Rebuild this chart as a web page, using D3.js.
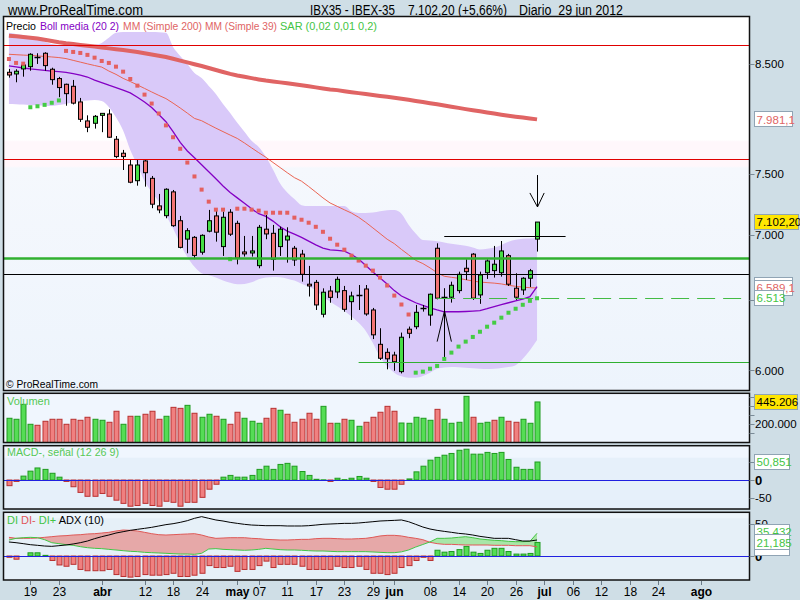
<!DOCTYPE html>
<html><head><meta charset="utf-8">
<script src="https://cdn.jsdelivr.net/npm/d3@7/dist/d3.min.js"></script>
<style>
body{margin:0;background:#cfdee6;}
svg{display:block;font-family:"Liberation Sans",Arial,sans-serif;}
text{white-space:pre;}
</style>
</head><body><svg id="c" width="800" height="600"></svg>
<script>
// ---------------- DATA ----------------
const dates = [
"2012-03-14","2012-03-15","2012-03-16",
"2012-03-19","2012-03-20","2012-03-21","2012-03-22","2012-03-23",
"2012-03-26","2012-03-27","2012-03-28","2012-03-29","2012-03-30",
"2012-04-02","2012-04-03","2012-04-04","2012-04-05",
"2012-04-10","2012-04-11","2012-04-12","2012-04-13",
"2012-04-16","2012-04-17","2012-04-18","2012-04-19","2012-04-20",
"2012-04-23","2012-04-24","2012-04-25","2012-04-26","2012-04-27",
"2012-04-30",
"2012-05-02","2012-05-03","2012-05-04",
"2012-05-07","2012-05-08","2012-05-09","2012-05-10","2012-05-11",
"2012-05-14","2012-05-15","2012-05-16","2012-05-17","2012-05-18",
"2012-05-21","2012-05-22","2012-05-23","2012-05-24","2012-05-25",
"2012-05-28","2012-05-29","2012-05-30","2012-05-31",
"2012-06-01",
"2012-06-04","2012-06-05","2012-06-06","2012-06-07","2012-06-08",
"2012-06-11","2012-06-12","2012-06-13","2012-06-14","2012-06-15",
"2012-06-18","2012-06-19","2012-06-20","2012-06-21","2012-06-22",
"2012-06-25","2012-06-26","2012-06-27","2012-06-28","2012-06-29"];
const futureDates = [
"2012-07-02","2012-07-03","2012-07-04","2012-07-05","2012-07-06",
"2012-07-09","2012-07-10","2012-07-11","2012-07-12","2012-07-13",
"2012-07-16","2012-07-17","2012-07-18","2012-07-19","2012-07-20",
"2012-07-23","2012-07-24","2012-07-25","2012-07-26","2012-07-27",
"2012-07-30","2012-07-31","2012-08-01","2012-08-02","2012-08-03",
"2012-08-06","2012-08-07","2012-08-08","2012-08-09","2012-08-10"];

const open  = [8420,8404,8452,8474,8572,8604,8449,8360,8306,8287, 8141,7967,7946,8018,8030,7803,7680,7578,7444,7613,
               7464,7234,7154,7350,7113,6966,6980,6863,7029,7152, 6907,7182,7092,6865,6857,6759,7045,7012,6907,6959,
               6894,6848,6618,6632,6396,6567,6560,6570,6488,6538, 6582,6427,6181,6125,6106,5992,6288,6306,6440,6390,
               6894,6520,6521,6570,6739,6848,6538,6705,6721,6705, 6836,6588,6575,6663,6966];
const high  = [8452,8449,8516,8604,8604,8614,8464,8376,8312,8347, 8178,8018,8021,8036,8073,7832,7709,7622,7622,7622,
               7484,7333,7380,7366,7152,7053,6990,7004,7201,7201, 7187,7207,7113,6991,6991,7079,7160,7079,7066,7060,
               6912,6881,6757,6650,6587,6605,6675,6605,6562,6612, 6612,6442,6295,6153,6129,6264,6307,6464,6464,6548,
               6933,6588,6637,6713,6808,6856,6713,6808,6912,6951, 6850,6701,6671,6734,7102.2];
const low   = [8369,8325,8378,8435,8500,8435,8302,8185,8106,8118, 7958,7866,7898,7866,7815,7637,7535,7422,7402,7394,
               7215,7174,7133,7064,6893,6855,6808,6844,7020,6946, 6834,6991,6769,6829,6829,6739,6965,6721,6834,6782,
               6757,6637,6526,6427,6373,6480,6514,6414,6354,6427, 6385,6218,6072,6008,5998,5980,6224,6288,6415,6313,
               6505,6415,6481,6550,6650,6501,6472,6658,6668,6675, 6605,6501,6538,6597,6868];
const close = [8394,8430,8490,8594,8572,8484,8350,8275,8218,8130, 7982,7910,8009,8036,7821,7651,7651,7431,7578,7512,
               7248,7201,7372,7073,6901,7033,6838,6996,7113,7021, 7141,7005,6817,6850,6873,7060,7007,6808,7045,6990,
               6803,6693,6605,6464,6558,6520,6655,6432,6530,6538, 6398,6248,6084,6080,6060,6231,6259,6410,6440,6543,
               6514,6520,6610,6693,6713,6514,6688,6795,6770,6873, 6618,6521,6663,6720,7102.2];
const prevClose = 8360;

const volume = [266000,255000,419000,200000,189000,233000,255000,255000,200000,255000,
                244000,277000,255000,244000,222000,343000,200000,288000,288000,310000,
                343000,255000,288000,386000,375000,408000,321000,277000,310000,288000,
                255000,200000,332000,266000,233000,211000,266000,375000,354000,310000,
                222000,255000,321000,255000,397000,211000,211000,255000,244000,178000,
                222000,277000,332000,397000,343000,214000,211000,277000,266000,244000,
                364000,255000,211000,222000,507000,277000,211000,222000,244000,277000,
                233000,222000,255000,211000,445206];

const macdHist = [-16,-4,11,25,34,30,19,8,-4,-19,
                  -35,-46,-46,-38,-46,-57,-66,-74,-72,-66,
                  -72,-74,-60,-63,-74,-63,-63,-49,-26,-12,
                  8,13,8,8,13,30,39,30,44,47,
                  39,24,13,2,0.5,-4,5,1,5,10,
                  5,-4,-21,-26,-26,-12,3,23,39,56,
                  64,70,75,84,87,73,73,78,75,78,
                  58,36,30,30,50.851];

const diHist = [-2,-5,0,5,5,1,-7,-14,-16,-13,
                -21,-23,-23,-23,-21,-29,-32,-33,-32,-29,
                -30,-30,-29,-27,-32,-32,-30,-27,-15,-18,
                -18,-16,-24,-21,-21,-15,-8,-18,-13,-13,
                -13,-16,-21,-21,-21,-21,-16,-18,-18,-16,
                -21,-27,-27,-29,-27,-18,-15,-7,-2,-7,
                9,6,7,10,15,6,4,9,12,12,
                7,3,3,4,21.185];
const diMinus = [29.2,27.6,27.6,27.6,28.1,29.2,30.2,31.3,31.8,32.8,
                 33.3,34.4,34.9,35.9,37.0,39.1,40.6,40.1,39.1,37.0,
                 34.9,33.3,32.8,33.3,33.9,34.4,34.9,32.8,29.7,27.6,
                 28.1,28.6,28.6,28.6,27.6,27.1,26.0,25.5,25.0,25.0,
                 25.5,26.0,26.0,27.1,27.6,27.6,27.1,26.6,26.6,27.1,
                 27.6,29.2,31.3,32.3,32.3,31.3,29.2,27.6,25.5,21.4,
                 19.3,18.2,18.2,17.7,17.2,17.2,17.2,17.2,16.7,16.7,
                 16.7,16.1,16.1,16.1,14.25];
const diPlus = [25.0,27.6,28.6,29.2,28.6,25.5,20.8,19.3,17.7,16.7,
                14.6,13.0,12.0,11.5,10.4,9.4,8.3,7.3,6.8,5.7,
                5.2,4.7,4.2,3.6,3.1,3.1,2.6,4.2,10.9,11.5,
                10.4,9.9,9.4,8.9,9.4,10.4,12.0,10.9,9.9,9.4,
                9.4,8.9,8.3,7.8,7.8,7.3,6.8,6.8,6.8,6.8,
                6.8,6.3,5.7,5.2,5.2,6.5,9.4,14.0,18.0,22.0,
                27.6,27.6,28.1,29.2,30.2,28.6,26.6,25.5,24.5,24.0,
                22.9,22.4,22.4,22.9,35.432];
const adx = [21.9,20.8,19.3,17.7,16.7,15.6,15.1,16.1,17.2,18.8,
             20.8,23.4,27.1,30.2,32.8,35.9,38.0,40.1,41.7,43.2,
             44.8,46.9,49.0,50.5,52.6,55.2,58.9,61.5,58.9,56.3,
             54.7,52.6,51.0,49.5,48.4,47.9,47.4,47.4,47.4,46.9,
             46.9,46.9,47.4,48.4,49.5,50.0,50.5,51.0,51.0,51.6,
             52.6,53.6,54.7,55.2,55.7,56.3,53.6,49.5,45.3,42.2,
             40.1,38.5,37.0,35.4,34.4,32.8,30.7,29.2,27.6,27.6,
             27.6,25.5,23.4,23.4,25.0];

const sar = [8548,8510,8503,8092,8101,8114,8133,8155,8627,8617,
             8607,8588,8561,8529,8510,8474,8426,8356,8293,8209,
             8126,8035,7927,7821,7719,7599,7480,7369,7269,7203,
             7203,6809,7211,7211,7203,7195,7178,7178,7178,7178,
             7138,7121,7097,7064,7024,6969,6922,6883,6836,6798,
             6759,6721,6668,6608,6533,6467,6394,5985,5992,6012,
             6031,6079,6123,6165,6200,6233,6270,6306,6335,6371,
             6407,6436,6465,6494,6513];

const bbUpper = [8806,8795,8785,8768,8745,8718,8695,8685,8676,8676,
                 8676,8680,8686,8705,8756,8806,8815,8815,8815,8815,
                 8815,8812,8806,8666,8578,8500,8413,8365,8290,8215,
                 8122,8040,7950,7870,7790,7735,7650,7540,7420,7345,
                 7290,7240,7233,7233,7233,7233,7233,7233,7190,7176,
                 7176,7180,7190,7198,7200,7170,7080,7010,6959,6955,
                 6950,6940,6930,6922,6913,6900,6885,6890,6900,6920,
                 6945,6960,6968,6970,6975];
const bbMiddle = [8481,8471,8461,8452,8446,8439,8432,8426,8419,8407,
                  8393,8375,8346,8322,8297,8275,8250,8225,8185,8140,
                  8090,8025,7960,7870,7775,7700,7640,7580,7520,7460,
                  7400,7345,7300,7255,7210,7170,7148,7110,7065,7030,
                  7005,6980,6950,6920,6895,6882,6878,6872,6845,6810,
                  6760,6710,6665,6620,6570,6530,6505,6480,6460,6442,
                  6427,6414,6414,6414,6416,6419,6422,6436,6452,6466,
                  6480,6494,6506,6525,6600];
const bbLower = [8122,8120,8117,8113,8110,8106,8104,8112,8122,8137,
                 8150,8155,8159,8150,8095,8000,7880,7709,7578,7440,
                 7350,7270,7160,7050,6930,6826,6750,6700,6685,6668,
                 6645,6628,6618,6620,6632,6655,6668,6673,6670,6660,
                 6645,6622,6600,6570,6525,6490,6455,6420,6380,6335,
                 6276,6190,6093,6030,5985,5960,5950,5950,5962,5985,
                 6012,6020,6024,6022,6018,6015,6012,6010,6012,6017,
                 6024,6036,6080,6140,6212];
const mm200 = [8777,8771,8765,8758,8749,8737,8725,8713,8703,8695,
               8686,8678,8670,8661,8652,8644,8636,8627,8617,8604,
               8592,8580,8567,8550,8532,8515,8497,8480,8461,8442,
               8423,8405,8390,8377,8364,8352,8341,8333,8324,8315,
               8306,8297,8287,8277,8267,8257,8251,8241,8232,8223,
               8214,8206,8197,8189,8180,8171,8161,8150,8140,8129,
               8119,8108,8097,8086,8075,8065,8055,8044,8034,8024,
               8015,8006,7998,7990,7981.1];
const mm39 = [8594,8590,8586,8583,8578,8573,8568,8562,8552,8535,
              8518,8501,8485,8470,8432,8400,8362,8332,8300,8267,
              8234,8202,8172,8130,8085,8038,7990,7969,7935,7902,
              7871,7840,7810,7770,7727,7685,7645,7600,7556,7512,
              7470,7440,7395,7348,7300,7258,7230,7202,7175,7141,
              7100,7055,7010,6965,6930,6885,6843,6800,6775,6742,
              6705,6678,6670,6663,6652,6642,6634,6630,6626,6620,
              6610,6602,6596,6592,6589.1];

// axis ticks
const priceTicks = [8500, 7500, 7000, 6000];
const priceTickText = ["8.500", "7.500", "7.000", "6.000"];
const volTicks = [100000, 200000, 300000, 400000, 500000];
const volTickLabels = [[200000, "200.000"]];
const macdTicks = [[0, "0", true], [-50, "-50", false]];
const adxTicks = [[50, "50", false], [0, "0", true]];
const xTickDates  = ["2012-03-19","2012-03-23","2012-04-02","2012-04-12","2012-04-18","2012-04-24","2012-05-02","2012-05-07","2012-05-11","2012-05-17","2012-05-23","2012-05-29","2012-06-01","2012-06-08","2012-06-14","2012-06-20","2012-06-26","2012-07-02","2012-07-06","2012-07-12","2012-07-18","2012-07-24","2012-08-01"];
const xTickLabels = ["19","23","abr","12","18","24","may","07","11","17","23","29","jun","08","14","20","26","jul","06","12","18","24","ago"];
const xTickBold   = [0,0,1,0,0,0,1,0,0,0,0,0,1,0,0,0,0,1,0,0,0,0,1];

// user-drawn lines (price level, start date, end date)
const levelValues = [8683, 7630, 6821, 6694, 6513, 6056, 6991];
const levelStart  = ["2012-03-14","2012-03-14","2012-03-14","2012-03-14","2012-06-11","2012-05-25","2012-06-12"];
const levelEnd    = [null, null, null, null, null, null, "2012-07-05"];
const levelStyle  = ["red","red","greenThick","black","greenDash","green","black"];
// arrows: date, tail price, tip price, head price
const arrowDates = ["2012-06-29", "2012-06-12"];
const arrowTail  = [7492, 6093];
const arrowTip   = [7225, 6420];
const arrowHead  = [7341, 6200];

// ---------------- CHART ----------------
const svg = d3.select("#c");
const L = 3.5, R = 749.5;
const panels = {
  main: [16.5, 390.5], vol: [393.3, 442.5], macd: [445.7, 509], adx: [512.3, 580]
};
const allDates = dates.concat(futureDates);
const x = d3.scaleLinear().domain([-0.69, 103.7]).range([4, 749]);
const xd = d => x(allDates.indexOf(d));
const yP = d3.scaleLog().domain([5865, 8971]).range([390.5, 16.5]);
const yV = d3.scaleLinear().domain([0, 538000]).range([442.5, 393.5]);
const yM = d3.scaleLinear().domain([-81.9, 96.9]).range([509, 445.7]);
const yA = d3.scaleLinear().domain([-37.5, 68.3]).range([580, 512.3]);
const idx = d3.range(dates.length);
const px = v => Math.round(v) + 0.5;

const defs = svg.append("defs");
const grad = defs.append("linearGradient").attr("id","mainbg").attr("x1",0).attr("y1",0).attr("x2",0).attr("y2",1);
[[0,"#ffffff"],[0.33,"#ffffff"],[0.335,"#fff7fb"],[0.4,"#fff7fb"],[0.405,"#f5f8fd"],[1,"#edf4fc"]]
  .forEach(s => grad.append("stop").attr("offset", s[0]).attr("stop-color", s[1]));
Object.entries(panels).forEach(([k, p]) => {
  defs.append("clipPath").attr("id", "clip-" + k).append("rect")
    .attr("x", L).attr("y", p[0]).attr("width", R - L).attr("height", p[1] - p[0]);
});

// header
svg.append("rect").attr("width",800).attr("height",600).attr("fill","#cfdee6");
svg.append("text").attr("x",8).attr("y",15).attr("font-size",14).attr("textLength",135)
  .attr("lengthAdjust","spacingAndGlyphs").text("www.ProRealTime.com");
svg.append("text").attr("x",310).attr("y",15).attr("font-size",14).attr("textLength",85)
  .attr("lengthAdjust","spacingAndGlyphs").text("IBX35 - IBEX-35");
svg.append("text").attr("x",408).attr("y",15).attr("font-size",14).attr("textLength",99)
  .attr("lengthAdjust","spacingAndGlyphs").text("7.102,20 (+5,66%)");
svg.append("text").attr("x",519).attr("y",15).attr("font-size",14).attr("textLength",104)
  .attr("lengthAdjust","spacingAndGlyphs").text("Diario  29 jun 2012");

// panel backgrounds
svg.append("rect").attr("x",L).attr("y",panels.main[0]).attr("width",R-L)
  .attr("height",panels.main[1]-panels.main[0]).attr("fill","url(#mainbg)");
svg.append("rect").attr("x",L).attr("y",panels.vol[0]).attr("width",R-L)
  .attr("height",panels.vol[1]-panels.vol[0]).attr("fill","#f0f6fe");
svg.append("rect").attr("x",L).attr("y",panels.macd[0]).attr("width",R-L)
  .attr("height",panels.macd[1]-panels.macd[0]).attr("fill","#e6f0fa");
svg.append("rect").attr("x",L).attr("y",panels.macd[0]).attr("width",R-L)
  .attr("height",12).attr("fill","#f0f6fe");
svg.append("rect").attr("x",L).attr("y",panels.adx[0]).attr("width",R-L)
  .attr("height",panels.adx[1]-panels.adx[0]).attr("fill","#e6f0f8");
svg.append("rect").attr("x",L).attr("y",panels.adx[0]).attr("width",R-L)
  .attr("height",6).attr("fill","#edf5fb");

// ---- main panel ----
const gm = svg.append("g").attr("clip-path","url(#clip-main)");
gm.append("path").datum(idx)
  .attr("d", d3.area().x(i => x(i)).y0(i => yP(bbLower[i])).y1(i => yP(bbUpper[i])).curve(d3.curveMonotoneX))
  .attr("fill","#d9c9f9");
const lineP = arr => d3.line().x(i => x(i)).y(i => yP(arr[i]));
gm.append("path").datum(idx).attr("d", lineP(mm200)).attr("fill","none").attr("stroke","#e06464").attr("stroke-width",4);
gm.append("path").datum(idx).attr("d", lineP(mm39)).attr("fill","none").attr("stroke","#ea6452").attr("stroke-width",1);
gm.append("path").datum(idx).attr("d", lineP(bbMiddle)).attr("fill","none").attr("stroke","#8400c4").attr("stroke-width",1.3);

// candles
const cg = gm.append("g");
idx.forEach(i => {
  const cx = px(x(i));
  cg.append("line").attr("x1",cx).attr("x2",cx).attr("y1",yP(high[i])).attr("y2",yP(low[i]))
    .attr("stroke","#000").attr("stroke-width",1);
  if (open[i] === close[i]) {
    cg.append("line").attr("x1",cx-3).attr("x2",cx+3).attr("y1",px(yP(close[i]))).attr("y2",px(yP(close[i])))
      .attr("stroke","#000").attr("stroke-width",1.5);
  } else {
    const top = yP(Math.max(open[i], close[i])), bot = yP(Math.min(open[i], close[i]));
    cg.append("rect").attr("x",cx-2).attr("width",4).attr("y",top).attr("height",Math.max(1,bot-top))
      .attr("fill", close[i] > open[i] ? "#46de46" : "#f27474").attr("stroke","#000").attr("stroke-width",1);
  }
});
// SAR
gm.selectAll("rect.sar").data(idx).enter().append("rect").attr("class","sar")
  .attr("x", i => x(i) - 2).attr("y", i => yP(sar[i]) - 2).attr("width",4).attr("height",4)
  .attr("fill", i => sar[i] > close[i] ? "#e46060" : "#44cc44");

// level lines
const lvlStyle = {
  red: {c:"#e00000", w:1, d:null}, greenThick: {c:"#30b030", w:2.5, d:null},
  black: {c:"#000", w:1, d:null}, greenDash: {c:"#44bb44", w:1, d:"18,8"}, green: {c:"#30b030", w:1.2, d:null}
};
levelValues.forEach((v, k) => {
  const s = lvlStyle[levelStyle[k]];
  const x1 = levelStart[k] === dates[0] ? L : xd(levelStart[k]);
  const x2 = levelEnd[k] ? xd(levelEnd[k]) : R;
  gm.append("line").attr("x1",x1).attr("x2",x2).attr("y1",px(yP(v))).attr("y2",px(yP(v)))
    .attr("stroke",s.c).attr("stroke-width",s.w).attr("stroke-dasharray",s.d);
});
// arrows
arrowDates.forEach((d, k) => {
  const i = allDates.indexOf(d);
  const cx = px(x(i));
  gm.append("line").attr("x1",cx).attr("x2",cx).attr("y1",yP(arrowTail[k])).attr("y2",yP(arrowTip[k]))
    .attr("stroke","#000").attr("stroke-width",1);
  gm.append("path").attr("d", d3.line()([[x(i-1), yP(arrowHead[k])],[cx, yP(arrowTip[k])],[x(i+1), yP(arrowHead[k])]]))
    .attr("fill","none").attr("stroke","#000").attr("stroke-width",1);
});
// legend
const leg = [["Precio","#000",6,30],["Boll media (20 2)","#8400c4",40,79],["MM (Simple 200)","#e06464",123,79],
             ["MM (Simple 39)","#e06464",205,72],["SAR (0,02 0,01 0,2)","#44c444",280,97]];
leg.forEach(l => svg.append("text").attr("x",l[2]).attr("y",30).attr("font-size",11).attr("fill",l[1])
  .attr("textLength",l[3]).attr("lengthAdjust","spacingAndGlyphs").text(l[0]));
svg.append("text").attr("x",6).attr("y",387.5).attr("font-size",11).attr("textLength",92)
  .attr("lengthAdjust","spacingAndGlyphs").text("© ProRealTime.com");

// ---- volume ----
const gv = svg.append("g").attr("clip-path","url(#clip-vol)");
const volUp = i => close[i] >= (i === 0 ? prevClose : close[i-1]);
gv.selectAll("rect").data(idx).enter().append("rect")
  .attr("x", i => Math.round(x(i)) - 2).attr("width",5)
  .attr("y", i => yV(volume[i])).attr("height", i => yV(0) - yV(volume[i]))
  .attr("fill", i => volUp(i) ? "#55dd55" : "#f08080")
  .attr("stroke", i => volUp(i) ? "#1f9a1f" : "#b83030").attr("stroke-width",1);
svg.append("text").attr("x",7).attr("y",405).attr("font-size",11).attr("fill","#55c855").text("Volumen");

// ---- macd ----
const gmc = svg.append("g").attr("clip-path","url(#clip-macd)");
gmc.selectAll("rect").data(idx).enter().append("rect")
  .attr("x", i => Math.round(x(i)) - 2).attr("width",5)
  .attr("y", i => yM(Math.max(0, macdHist[i]))).attr("height", i => Math.abs(yM(0) - yM(macdHist[i])))
  .attr("fill", i => macdHist[i] >= 0 ? "#55dd55" : "#f08080")
  .attr("stroke", i => macdHist[i] >= 0 ? "#1f9a1f" : "#b83030").attr("stroke-width",1);
gmc.append("line").attr("x1",L).attr("x2",R).attr("y1",px(yM(0))).attr("y2",px(yM(0)))
  .attr("stroke","#2020e0").attr("stroke-width",1.2);
svg.append("text").attr("x",7).attr("y",456).attr("font-size",11).attr("fill","#55c855")
  .attr("textLength",112).attr("lengthAdjust","spacingAndGlyphs").text("MACD-, señal (12 26 9)");

// ---- adx ----
const ga = svg.append("g").attr("clip-path","url(#clip-adx)");
const lineA = arr => d3.line().x(i => x(i)).y(i => yA(arr[i]));
const betweenArea = d3.area().x(i => x(i)).y0(i => yA(diPlus[i])).y1(i => yA(diMinus[i]));
defs.append("clipPath").attr("id","aboveDIp").append("path").datum(idx)
  .attr("d", d3.area().x(i => x(i)).y0(i => yA(diPlus[i])).y1(panels.adx[0])(idx));
defs.append("clipPath").attr("id","aboveDIm").append("path").datum(idx)
  .attr("d", d3.area().x(i => x(i)).y0(i => yA(diMinus[i])).y1(panels.adx[0])(idx));
ga.append("path").datum(idx).attr("d", betweenArea).attr("fill","#e6a8a8").attr("clip-path","url(#aboveDIp)");
ga.append("path").datum(idx).attr("d", betweenArea).attr("fill","#a8e6a8").attr("clip-path","url(#aboveDIm)");
ga.selectAll("rect").data(idx).enter().append("rect")
  .attr("x", i => Math.round(x(i)) - 2).attr("width",5)
  .attr("y", i => yA(Math.max(0, diHist[i]))).attr("height", i => Math.abs(yA(0) - yA(diHist[i])))
  .attr("fill", i => diHist[i] >= 0 ? "#55dd55" : "#f08080")
  .attr("stroke", i => diHist[i] >= 0 ? "#1f9a1f" : "#b83030").attr("stroke-width",1);
ga.append("path").datum(idx).attr("d", lineA(diMinus)).attr("fill","none").attr("stroke","#e05858").attr("stroke-width",1);
ga.append("path").datum(idx).attr("d", lineA(diPlus)).attr("fill","none").attr("stroke","#44c444").attr("stroke-width",1);
ga.append("path").datum(idx).attr("d", lineA(adx)).attr("fill","none").attr("stroke","#000").attr("stroke-width",1);
ga.append("line").attr("x1",L).attr("x2",R).attr("y1",px(yA(0))).attr("y2",px(yA(0)))
  .attr("stroke","#2020e0").attr("stroke-width",1.2);
const adxLeg = svg.append("text").attr("x",7).attr("y",524).attr("font-size",11);
adxLeg.append("tspan").attr("fill","#44c444").text("DI ");
adxLeg.append("tspan").attr("fill","#e05858").text("DI- ");
adxLeg.append("tspan").attr("fill","#44c444").text("DI+ ");
adxLeg.append("tspan").attr("fill","#000").text("ADX (10)");

// panel borders
Object.values(panels).forEach(p => {
  svg.append("rect").attr("x",L).attr("y",p[0]).attr("width",R-L).attr("height",p[1]-p[0])
    .attr("fill","none").attr("stroke","#111").attr("stroke-width",1.5);
});

// ---- right axis ----
const tick = y => svg.append("line").attr("x1",R).attr("x2",R+5).attr("y1",px(y)).attr("y2",px(y))
  .attr("stroke","#7a8a96").attr("stroke-width",1);
const lab = (y, t, bold) => svg.append("text").attr("x",755).attr("y",y).attr("dy","0.36em")
  .attr("font-size", bold ? 13 : 11.5).attr("font-weight", bold ? "bold" : "normal").text(t);
priceTicks.forEach((v, k) => { tick(yP(v)); lab(yP(v), priceTickText[k]); });
tick(yP(6500));
volTicks.forEach(v => tick(yV(v)));
volTickLabels.forEach(d => lab(yV(d[0]), d[1]));
[50, 0, -50].forEach(v => tick(yM(v)));
macdTicks.forEach(d => lab(yM(d[0]), d[1], d[2]));
adxTicks.forEach(d => { tick(yA(d[0])); lab(yA(d[0]), d[1], d[2]); });

const box = (y, t, col, bg, w, h) => {
  h = h || 15;
  svg.append("rect").attr("x",754.5).attr("y",Math.round(y) - 7.5).attr("width",w).attr("height",h)
    .attr("fill",bg).attr("stroke","#90a4b4").attr("stroke-width",1);
  if (t) svg.append("text").attr("x",756.5).attr("y",y).attr("dy","0.36em").attr("font-size",11.5)
    .attr("fill",col).text(t);
};
box(yP(mm200[74]), "7.981,1", "#e06464", "#fff", 38);
box(yP(close[74]), "7.102,20", "#000", "#ffe600", 44);
box(yP(bbMiddle[74]) - 2, null, "#8400c4", "#fff", 38);
box(yP(mm39[74]), "6.589,1", "#e06464", "#fff", 38);
box(yP(sar[74]), "6.513", "#44c444", "#fff", 29);
box(yV(volume[74]), "445.206", "#000", "#ffe600", 43);
box(yM(macdHist[74]), "50,851", "#44c444", "#fff", 35);
box(yA(diMinus[74]) + 1, null, "#e05858", "#fff", 35);
box(yA(diPlus[74]) - 1, "35,432", "#44c444", "#fff", 35, 13);
box(yA(diHist[74]), "21,185", "#44c444", "#fff", 35);

// ---- x axis ----
xTickDates.forEach((d, k) => {
  const cx = px(xd(d));
  svg.append("line").attr("x1",cx).attr("x2",cx).attr("y1",581).attr("y2",585).attr("stroke","#6a7a86");
  svg.append("text").attr("x",cx).attr("y",596).attr("text-anchor","middle").attr("font-size",12)
    .attr("font-weight", xTickBold[k] ? "bold" : "normal").text(xTickLabels[k]);
});
</script>
</body></html>
